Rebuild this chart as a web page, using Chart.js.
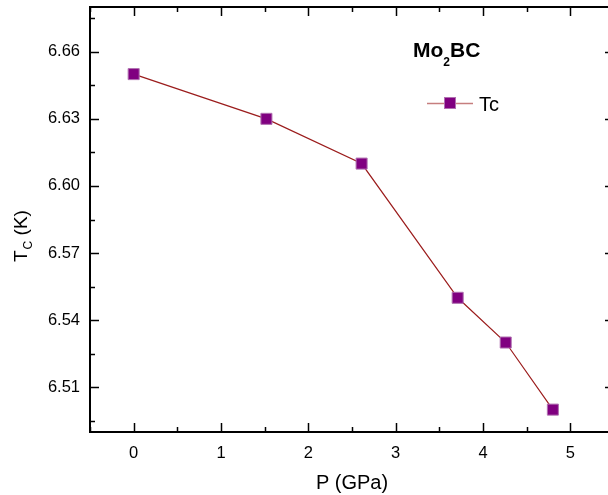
<!DOCTYPE html>
<html>
<head>
<meta charset="utf-8">
<script src="https://cdn.jsdelivr.net/npm/chart.js@4/dist/chart.umd.min.js"></script>
<style>
  html, body { margin: 0; padding: 0; background: #fff; overflow: hidden; }
  #wrap { width: 608px; height: 495px; overflow: hidden; }
</style>
</head>
<body>
<div id="wrap"><canvas id="tcChart" width="616" height="495"></canvas></div>
<script>
// pressure (GPa) and Tc (K)
var pressure = [0, 1.52, 2.61, 3.71, 4.26, 4.8];
var tcValues = [6.65, 6.63, 6.61, 6.55, 6.53, 6.50];

var xTicks = [0, 1, 2, 3, 4, 5];
var xMinor = [-0.5, 0.5, 1.5, 2.5, 3.5, 4.5, 5.5];
var yTicks = [6.51, 6.54, 6.57, 6.60, 6.63, 6.66];
var yMinor = [6.495, 6.525, 6.555, 6.585, 6.615, 6.645, 6.675];

var FONT = '"Liberation Sans", Arial, sans-serif';

// frame, inward ticks, axis title with subscript, label and legend
const framePlugin = {
  id: 'frame',
  afterDraw(chart) {
    var ctx = chart.ctx;
    var a = chart.chartArea;
    var xs = chart.scales.x, ys = chart.scales.y;
    ctx.save();
    ctx.strokeStyle = '#000';
    ctx.lineWidth = 2;
    ctx.strokeRect(a.left, a.top, a.right - a.left, a.bottom - a.top);

    ctx.lineWidth = 1.5;
    function tick(x1, y1, x2, y2) {
      ctx.beginPath(); ctx.moveTo(x1, y1); ctx.lineTo(x2, y2); ctx.stroke();
    }
    xTicks.forEach(function(v) {
      var px = Math.round(xs.getPixelForValue(v)) + 0.5;
      tick(px, a.bottom, px, a.bottom - 9);
      tick(px, a.top, px, a.top + 9);
    });
    xMinor.forEach(function(v) {
      var px = Math.round(xs.getPixelForValue(v)) + 0.5;
      tick(px, a.bottom, px, a.bottom - 5);
      tick(px, a.top, px, a.top + 5);
    });
    yTicks.forEach(function(v) {
      var py = Math.round(ys.getPixelForValue(v)) + 0.5;
      tick(a.left, py, a.left + 9, py);
      tick(a.right, py, a.right - 9, py);
    });
    yMinor.forEach(function(v) {
      var py = Math.round(ys.getPixelForValue(v)) + 0.5;
      tick(a.left, py, a.left + 5, py);
      tick(a.right, py, a.right - 5, py);
    });

    // y axis title: T_C (K)
    ctx.fillStyle = '#000';
    ctx.translate(27, 262);
    ctx.rotate(-Math.PI / 2);
    ctx.textBaseline = 'alphabetic';
    ctx.textAlign = 'left';
    ctx.font = '19px ' + FONT;
    ctx.fillText('T', 0, 0);
    var w = ctx.measureText('T').width;
    ctx.font = '12px ' + FONT;
    ctx.fillText('C', w + 1, 5);
    var w2 = ctx.measureText('C').width;
    ctx.font = '19px ' + FONT;
    ctx.fillText(' (K)', w + 1 + w2, 0);
    ctx.restore();

    // compound label Mo2BC
    ctx.save();
    ctx.fillStyle = '#000';
    ctx.textBaseline = 'alphabetic';
    ctx.font = 'bold 21px ' + FONT;
    var x0 = 413;
    ctx.fillText('Mo', x0, 57);
    x0 += ctx.measureText('Mo').width;
    ctx.font = 'bold 12px ' + FONT;
    ctx.fillText('2', x0, 66);
    x0 += ctx.measureText('2').width;
    ctx.font = 'bold 21px ' + FONT;
    ctx.fillText('BC', x0, 57);

    // legend
    ctx.strokeStyle = 'rgba(160,40,40,0.6)';
    ctx.lineWidth = 1.5;
    ctx.beginPath(); ctx.moveTo(427, 103.5); ctx.lineTo(473, 103.5); ctx.stroke();
    ctx.fillStyle = '#800080';
    ctx.fillRect(444, 97, 12, 12);
    ctx.strokeStyle = '#b070b0';
    ctx.lineWidth = 1;
    ctx.strokeRect(444.5, 97.5, 11, 11);
    ctx.fillStyle = '#000';
    ctx.font = '20px ' + FONT;
    ctx.fillText('Tc', 479, 111);
    ctx.restore();
  }
};

function noPadding(scale) {
  scale.paddingTop = 0;
  scale.paddingBottom = 0;
  scale.paddingLeft = 0;
  scale.paddingRight = 0;
}

const points = pressure.map(function(p, i) { return { x: p, y: tcValues[i] }; });

new Chart(document.getElementById('tcChart'), {
  type: 'line',
  data: {
    datasets: [{
      label: 'Tc',
      data: points,
      borderColor: '#9b1c1c',
      borderWidth: 1.2,
      backgroundColor: '#800080',
      pointStyle: 'rect',
      pointRadius: 7.8,
      pointBackgroundColor: '#800080',
      pointBorderColor: '#b070b0',
      pointBorderWidth: 1,
      tension: 0
    }]
  },
  options: {
    responsive: false,
    animation: false,
    layout: { autoPadding: false, padding: { left: 0, right: 2, top: 7, bottom: 0 } },
    plugins: {
      legend: { display: false },
      tooltip: { enabled: false }
    },
    scales: {
      x: {
        type: 'linear',
        min: -0.5,
        max: 5.5,
        afterBuildTicks: function(scale) {
          scale.ticks = xTicks.map(function(v) { return { value: v }; });
        },
        afterFit: function(scale) { scale.height = 63; noPadding(scale); },
        grid: { display: false, drawTicks: false },
        border: { display: false },
        ticks: {
          padding: 12,
          color: '#000',
          font: { family: FONT, size: 16.5 },
          callback: function(v) { return String(v); }
        },
        title: {
          display: true,
          text: 'P (GPa)',
          color: '#000',
          font: { family: FONT, size: 20 },
          padding: { top: 7, bottom: 0 }
        }
      },
      y: {
        type: 'linear',
        min: 6.49,
        max: 6.68,
        afterBuildTicks: function(scale) {
          scale.ticks = yTicks.map(function(v) { return { value: v }; });
        },
        afterFit: function(scale) { scale.width = 90; noPadding(scale); },
        grid: { display: false, drawTicks: false },
        border: { display: false },
        ticks: {
          padding: 10,
          color: '#000',
          font: { family: FONT, size: 16.5 },
          callback: function(v) { return v.toFixed(2); }
        }
      }
    }
  },
  plugins: [framePlugin]
});
</script>
</body>
</html>
